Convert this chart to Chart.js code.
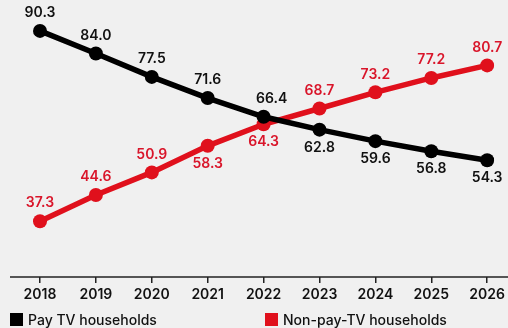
<!DOCTYPE html>
<html>
<head>
<meta charset="utf-8">
<script src="https://cdn.jsdelivr.net/npm/chart.js@4"></script>
<style>
  html, body { margin: 0; padding: 0; background: #f0f0f0; }
  #wrap { position: relative; width: 508px; height: 328px; overflow: hidden; }
  canvas { position: absolute; left: 0; top: 0; }
  .lg { position: absolute; top: 311px; font: 500 14px 'Inter', sans-serif; color: #111; white-space: nowrap; }
  .lg i { display: inline-block; width: 13px; height: 13px; margin-right: 5px; vertical-align: -1px; }
</style>
</head>
<body>
<div id="wrap">
  <canvas id="c" width="508" height="328"></canvas>
  <div class="lg" style="left:10px"><i style="background:#000"></i>Pay TV households</div>
  <div class="lg" style="left:265px"><i style="background:#e0101c"></i>Non-pay-TV households</div>
</div>
<script>
/* ── datos ───────────────────────────── */
const years  = ['2018','2019','2020','2021','2022','2023','2024','2025','2026'];
const payTV  = [90.3, 84.0, 77.5, 71.6, 66.4, 62.8, 59.6, 56.8, 54.3];
const nonPay = [37.3, 44.6, 50.9, 58.3, 64.3, 68.7, 73.2, 77.2, 80.7];

// dónde va cada etiqueta: -1 arriba, 1 abajo
const paySide = [-1,-1,-1,-1,-1, 1, 1, 1, 1];
const nonSide = [-1,-1,-1, 1, 1,-1,-1,-1,-1];

const BLACK = '#000000', RED = '#e0101c', RED_TXT = '#d9152a';
const font = "'Inter', sans-serif";

const valueLabels = {
  id: 'valueLabels',
  afterDatasetsDraw(chart) {
    const { ctx } = chart;
    const sides = [paySide, nonSide];
    const colors = ['#111111', RED_TXT];
    ctx.save();
    ctx.font = `600 14px ${font}`;
    ctx.textAlign = 'center';
    ctx.textBaseline = 'middle';
    chart.data.datasets.forEach((ds, di) => {
      chart.getDatasetMeta(di).data.forEach((pt, i) => {
        let dx = 0;
        if (di === 0 && i === 4) dx = 8;
        ctx.fillStyle = colors[di];
        ctx.fillText(ds.data[i].toFixed(1), pt.x + dx, pt.y + sides[di][i] * 18);
      });
    });
    ctx.restore();
  }
};

const baseLine = {
  id: 'baseLine',
  afterDraw(chart) {
    const { ctx, chartArea } = chart;
    ctx.save();
    ctx.strokeStyle = '#222';
    ctx.lineWidth = 1.5;
    ctx.beginPath();
    ctx.moveTo(10, chartArea.bottom);
    ctx.lineTo(508, chartArea.bottom);
    ctx.stroke();
    ctx.restore();
  }
};

new Chart('c', {
  type: 'line',
  data: {
    labels: years,
    datasets: [
      {
        label: 'Pay TV households', data: payTV,
        borderColor: BLACK, backgroundColor: BLACK,
        borderWidth: 5.5, pointRadius: 7, pointBorderWidth: 0, tension: 0
      },
      {
        label: 'Non-pay-TV households', data: nonPay,
        borderColor: RED, backgroundColor: RED,
        borderWidth: 5.5, pointRadius: 7, pointBorderWidth: 0, tension: 0
      }
    ]
  },
  options: {
    responsive: false, animation: false,
    layout: { padding: { top: 0, left: 40, right: 20, bottom: 28 } },
    plugins: { legend: { display: false }, tooltip: { enabled: false } },
    scales: {
      y: { display: false, min: 21.77, max: 96.96 },
      x: {
        offset: false,
        afterFit: s => { s.height = 23; },
        border: { display: false },
        grid: { drawOnChartArea: false, drawTicks: true, tickLength: 6, color: '#222', lineWidth: 1.5 },
        ticks: { color: '#111', padding: 3, font: { family: font, size: 14, weight: '600' }, maxRotation: 0 }
      }
    }
  },
  plugins: [valueLabels, baseLine]
});
</script>
</body>
</html>
